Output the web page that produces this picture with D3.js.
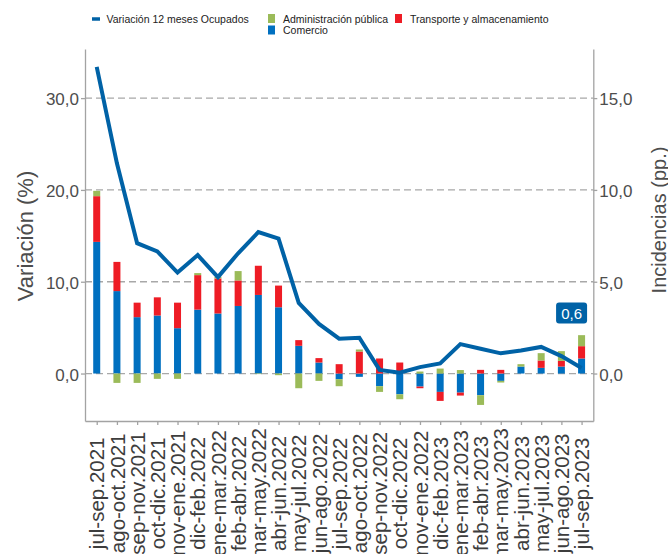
<!DOCTYPE html>
<html>
<head>
<meta charset="utf-8">
<script src="https://cdn.jsdelivr.net/npm/d3@7"></script>
<style>
  body { margin: 0; background: #fff; }
  text { font-family: "Liberation Sans", Arial, sans-serif; }
</style>
</head>
<body>
<svg id="svg" width="668" height="554"></svg>
<script>
// Data (trimestres moviles)
var periods = ["jul-sep.2021", "ago-oct.2021", "sep-nov.2021", "oct-dic.2021", "nov-ene.2021",
  "dic-feb.2022", "ene-mar.2022", "feb-abr.2022", "mar-may.2022", "abr-jun.2022",
  "may-jul.2022", "jun-ago.2022", "jul-sep.2022", "ago-oct.2022", "sep-nov.2022",
  "oct-dic.2022", "nov-ene.2022", "dic-feb.2023", "ene-mar.2023", "feb-abr.2023",
  "mar-may.2023", "abr-jun.2023", "may-jul.2023", "jun-ago.2023", "jul-sep.2023"];

// variacion 12 meses ocupados (%), eje izquierdo
var variacion = [33.4, 22.9, 14.2, 13.3, 11.0, 12.9, 10.5, 13.1, 15.4, 14.7,
  7.7, 5.4, 3.8, 3.9, 0.4, 0.1, 0.7, 1.1, 3.2, 2.7,
  2.2, 2.5, 2.9, 1.9, 0.6];

// incidencias (pp.), eje derecho
var comercio = [7.17, 4.49, 3.07, 3.16, 2.47, 3.48, 3.27, 3.68, 4.28, 3.61,
  1.51, 0.60, -0.31, -0.18, -0.69, -1.13, -0.71, -1.00, -1.04, -1.18,
  -0.40, 0.38, 0.31, 0.38, 0.82];
var transporte = [2.49, 1.59, 0.79, 0.99, 1.39, 1.88, 1.91, 1.39, 1.59, 1.18,
  0.31, 0.24, 0.51, 1.20, 0.82, 0.60, -0.09, -0.49, -0.16, 0.20,
  0.20, 0.00, 0.40, 0.31, 0.67];
var administracion = [0.29, -0.51, -0.51, -0.29, -0.29, 0.11, 0.09, 0.51, -0.03, -0.09,
  -0.80, -0.40, -0.38, 0.11, -0.31, -0.27, 0.11, 0.27, 0.19, -0.53,
  -0.09, 0.13, 0.40, 0.53, 0.60];

var leftTicks = [0, 10, 20, 30];
var rightTicks = [0, 5, 10, 15];

var keys = ["comercio", "transporte", "administracion"];
var colors = { comercio: "#0070c0", transporte: "#ee1c25", administracion: "#9bbb59" };
var lineColor = "#0062a6";
var axisColor = "#a3a3a3";
var textColor = "#4d4d4d";

var svg = d3.select("#svg");

// panel edges
var pLeft = 85, pRight = 593.3, pTop = 49, pBottom = 421;

var x = d3.scalePoint()
    .domain(periods)
    .range([pLeft, pRight])
    .padding(0.58);

var yLeft = d3.scaleLinear().domain([-5.17, 35.35]).range([pBottom, pTop]);
var yRight = d3.scaleLinear().domain([-2.585, 17.675]).range([pBottom, pTop]);

var fmt = function(d) { return d3.format(".1f")(d).replace(".", ","); };

// gridlines
svg.append("g")
  .selectAll("line")
  .data(leftTicks)
  .enter().append("line")
    .attr("x1", pLeft)
    .attr("x2", pRight)
    .attr("y1", function(d) { return yLeft(d); })
    .attr("y2", function(d) { return yLeft(d); })
    .attr("stroke", "#a8a8a8")
    .attr("stroke-width", 1.3)
    .attr("stroke-dasharray", "7,4");

// stacked bars
var rows = periods.map(function(p, i) {
  return { period: p, comercio: comercio[i], transporte: transporte[i], administracion: administracion[i] };
});

var series = d3.stack()
    .keys(keys)
    .offset(d3.stackOffsetDiverging)(rows);

var barW = 7;

svg.append("g")
  .selectAll("g")
  .data(series)
  .enter().append("g")
    .attr("fill", function(d) { return colors[d.key]; })
  .selectAll("rect")
  .data(function(d) { return d; })
  .enter().append("rect")
    .attr("x", function(d) { return x(d.data.period) - barW / 2; })
    .attr("y", function(d) { return yRight(Math.max(d[0], d[1])); })
    .attr("width", barW)
    .attr("height", function(d) { return Math.abs(yRight(d[0]) - yRight(d[1])); });

// line
var line = d3.line()
    .x(function(d, i) { return x(periods[i]); })
    .y(function(d) { return yLeft(d); });

svg.append("path")
    .datum(variacion)
    .attr("fill", "none")
    .attr("stroke", lineColor)
    .attr("stroke-width", 4)
    .attr("stroke-linejoin", "miter")
    .attr("d", line);

// axes
function styleAxis(g) {
  g.selectAll(".domain").attr("stroke", axisColor).attr("stroke-width", 1.3);
  g.selectAll(".tick line").attr("stroke", axisColor).attr("stroke-width", 1.3);
  g.selectAll(".tick text").attr("fill", textColor);
}

var axL = svg.append("g")
    .attr("transform", "translate(" + pLeft + ",0)")
    .call(d3.axisLeft(yLeft).tickValues(leftTicks).tickSize(4).tickSizeOuter(0).tickFormat(fmt));
axL.selectAll(".tick text").attr("font-size", 17).attr("x", -6).attr("dy", "0.4em");
styleAxis(axL);

var axR = svg.append("g")
    .attr("transform", "translate(" + pRight + ",0)")
    .call(d3.axisRight(yRight).tickValues(rightTicks).tickSize(4).tickSizeOuter(0).tickFormat(fmt));
axR.selectAll(".tick text").attr("font-size", 17).attr("x", 6).attr("dy", "0.4em");
styleAxis(axR);

var axB = svg.append("g")
    .attr("transform", "translate(0," + pBottom + ")")
    .call(d3.axisBottom(x).tickSize(4).tickSizeOuter(0));
styleAxis(axB);

// x labels: rotated, centred on the longest one
var xl = axB.selectAll(".tick text")
    .attr("font-size", 20.5)
    .attr("fill", "#3d3d3d");
var maxLen = 0;
xl.each(function() { maxLen = Math.max(maxLen, this.getComputedTextLength()); });
var cy = 428 - pBottom + maxLen / 2;
xl.attr("text-anchor", "middle")
  .attr("y", 0)
  .attr("dy", "0.35em")
  .attr("transform", "translate(0," + cy + ") rotate(-90)");

// axis titles
svg.append("text")
    .attr("transform", "translate(33,236) rotate(-90)")
    .attr("text-anchor", "middle")
    .attr("font-size", 22)
    .attr("fill", textColor)
    .text("Variación (%)");

svg.append("text")
    .attr("transform", "translate(666,220) rotate(-90)")
    .attr("text-anchor", "middle")
    .attr("font-size", 20)
    .attr("fill", textColor)
    .text("Incidencias (pp.)");

// last value label
var last = variacion.length - 1;
var lx = x(periods[last]) - 10, ly = yLeft(variacion[last]) - 55;
svg.append("rect")
    .attr("x", lx - 15.5)
    .attr("y", ly - 10.5)
    .attr("width", 31)
    .attr("height", 21)
    .attr("rx", 3)
    .attr("fill", lineColor);
svg.append("text")
    .attr("x", lx)
    .attr("y", ly + 5.5)
    .attr("text-anchor", "middle")
    .attr("font-size", 15)
    .attr("fill", "#fff")
    .text(fmt(variacion[last]));

// legend
var legend = svg.append("g").attr("font-size", 10.5).attr("fill", "#222");
legend.append("line")
    .attr("x1", 92).attr("x2", 100)
    .attr("y1", 19).attr("y2", 19)
    .attr("stroke", lineColor)
    .attr("stroke-width", 3.5);
legend.append("text").attr("x", 106.5).attr("y", 22.5).text("Variación 12 meses Ocupados");

var items = [
  { key: "administracion", label: "Administración pública", x: 268, y: 14 },
  { key: "transporte", label: "Transporte y almacenamiento", x: 395, y: 14 },
  { key: "comercio", label: "Comercio", x: 268, y: 25.5 }
];
items.forEach(function(d) {
  legend.append("rect")
      .attr("x", d.x).attr("y", d.y)
      .attr("width", 7).attr("height", 9)
      .attr("fill", colors[d.key]);
  legend.append("text")
      .attr("x", d.x + 15)
      .attr("y", d.y + 8.5)
      .text(d.label);
});
</script>
</body>
</html>
